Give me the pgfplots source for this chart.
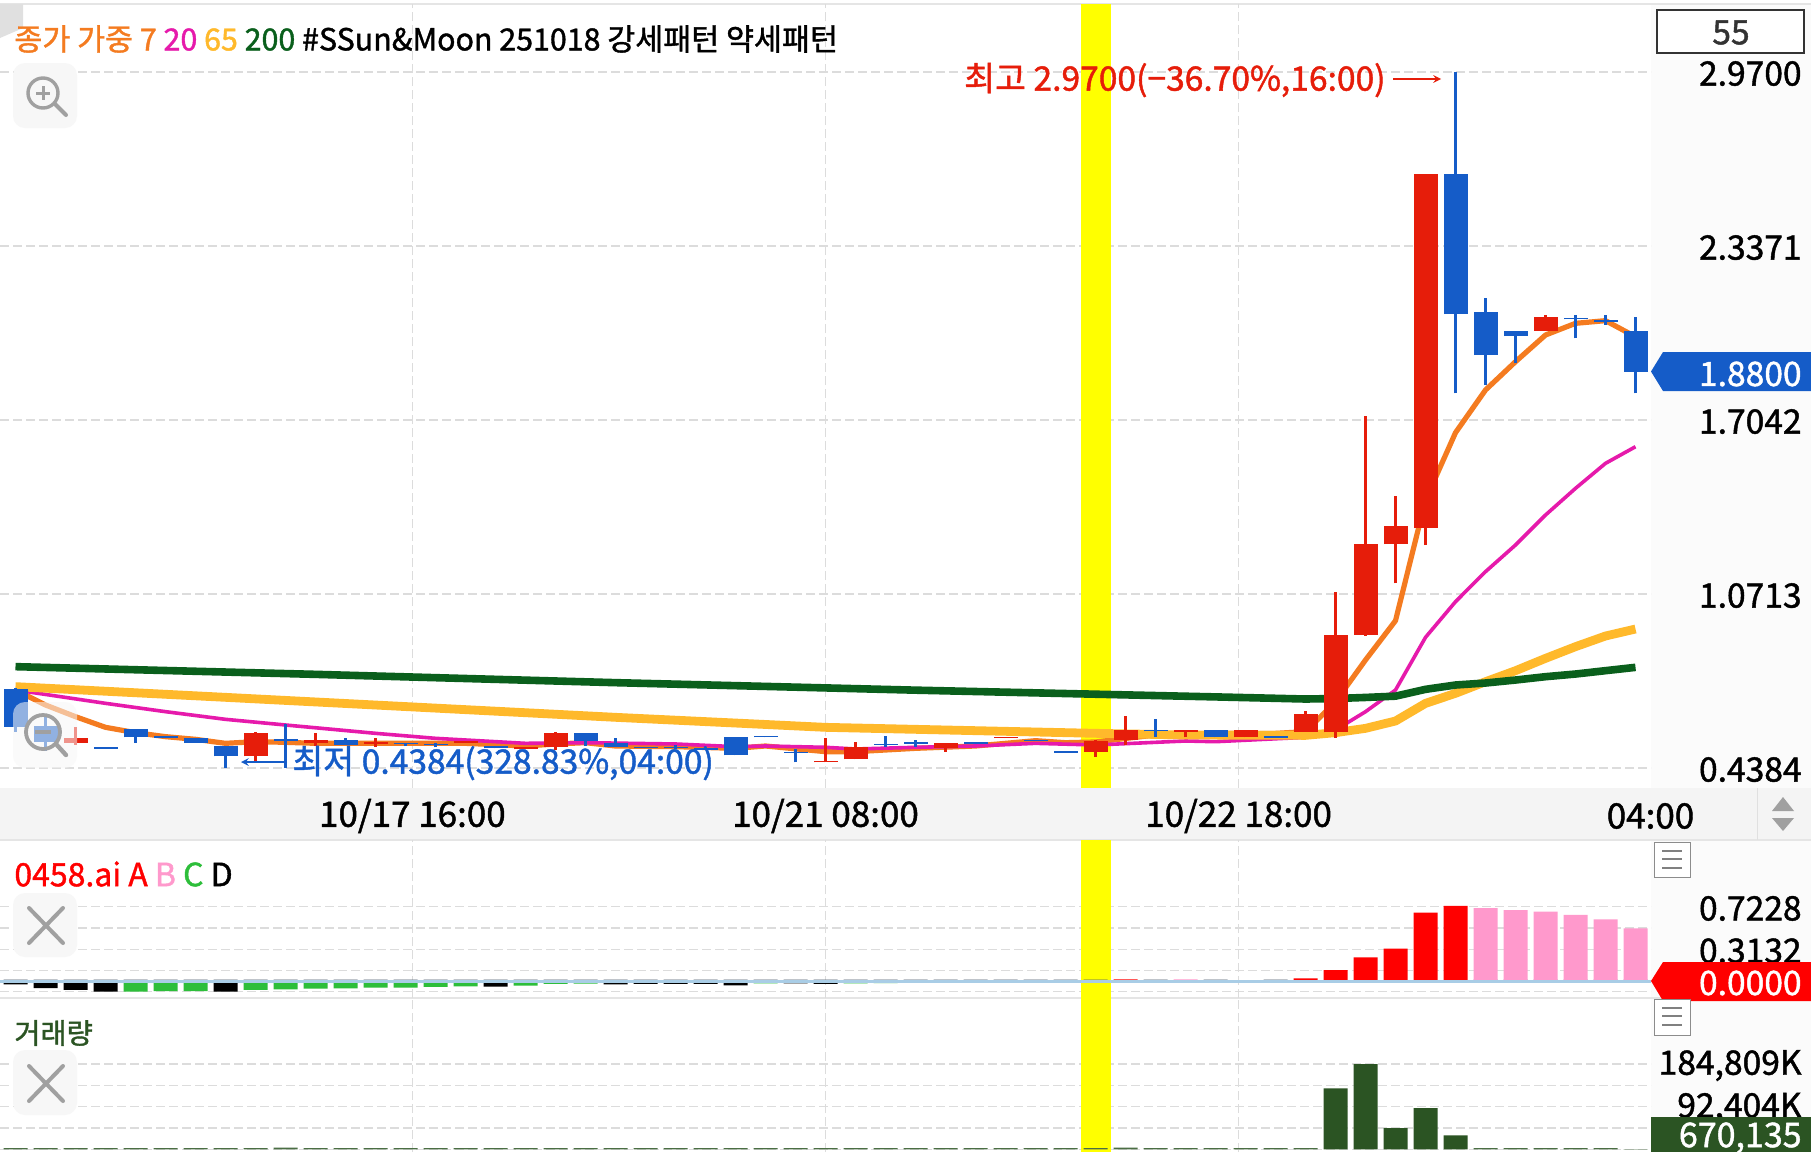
\documentclass[border=0pt]{standalone}
\usepackage{pgfplots}
\usepackage{pgfplotstable}
\usepackage{fontspec}
\pgfplotsset{compat=1.18}
\setmainfont{Noto Sans CJK KR}[FakeBold=1.3]
\definecolor{cred}{HTML}{E61D0A}
\definecolor{cblue}{HTML}{155CC8}
\definecolor{corange}{HTML}{F47B20}
\definecolor{cmag}{HTML}{E61AAB}
\definecolor{cyel}{HTML}{FFB92B}
\definecolor{cgreen}{HTML}{0A5F1C}
\definecolor{cgrid}{HTML}{DCDCDC}
\definecolor{cpink}{HTML}{FF99CC}
\definecolor{cbgreen}{HTML}{2DBE3A}
\definecolor{cvol}{HTML}{2B5423}
\definecolor{cicon}{HTML}{A0A0A0}
\definecolor{cbox}{HTML}{F7F7F7}
\definecolor{pureyellow}{HTML}{FFFF00}
\definecolor{purered}{HTML}{FF0000}
\definecolor{czero}{HTML}{A9CDE6}
\definecolor{cdash}{HTML}{4A5A6A}
\pgfplotstableread{
i bot top low high
2 .5305 .5463 .5221 .5863
8 .4808 .5669 .4578 .5694
10 .5281 .5402 .5184 .5645
12 .5269 .5342 .5160 .5463
15 .5310 .5366 .5310 .5366
17 .5063 .5160 .5063 .5160
18 .5160 .5657 .5039 .5694
27 .4590 .4651 .4590 .5487
28 .4699 .5148 .4699 .5330
31 .5111 .5281 .4978 .5281
33 .5470 .5524 .5470 .5524
36 .4966 .5366 .4796 .5415
37 .5402 .5766 .5208 .6288
39 .5710 .5766 .5499 .5766
41 .5498 .5765 .5498 .5765
43 .5705 .6335 .5705 .6468
44 .5680 .9221 .5486 1.0773
45 .9233 1.2531 .9197 1.7187
46 1.2531 1.3186 1.1100 1.4277
47 1.3101 2.5990 1.2495 2.5990
51 2.0291 2.0776 2.0291 2.0873
}\upcandles
\pgfplotstableread{
i bot top low high
0 .5887 .7245 .5706 .7282
1 .5342 .5912 .5002 .6227
3 .5080 .5136 .5080 .5136
4 .5499 .5790 .5305 .5790
5 .5487 .5548 .5487 .5548
6 .5305 .5487 .5305 .5487
7 .4808 .5184 .4384 .5184
9 .5375 .5427 .4384 .5972
11 .5233 .5402 .5233 .5487
13 .5250 .5305 .5184 .5305
14 .5205 .5257 .5136 .5281
16 .5099 .5172 .5099 .5172
19 .5366 .5657 .5184 .5657
20 .5160 .5281 .5160 .5463
21 .5099 .5160 .5099 .5160
22 .5099 .5160 .5075 .5208
23 .5050 .5099 .5050 .5099
24 .4845 .5499 .4845 .5499
25 .5495 .5548 .5495 .5548
26 .4925 .4978 .4590 .5087
29 .5221 .5269 .5160 .5548
30 .5270 .5318 .5160 .5402
32 .5270 .5318 .5270 .5318
34 .5350 .5402 .5350 .5402
35 .4940 .4990 .4940 .4990
38 .5718 .5766 .5524 .6154
40 .5498 .5765 .5498 .5765
42 .5486 .5535 .5486 .5535
48 2.0897 2.5990 1.8011 2.97
49 1.9406 2.0982 1.8315 2.1467
50 2.0097 2.0279 1.9103 2.0279
52 2.0703 2.0764 2.0012 2.0861
53 2.0606 2.0679 2.0509 2.0861
54 1.88 2.0279 1.8011 2.0776
}\downcandles
\pgfplotsset{
 pane/.style={scale only axis,width=825.5pt,xmin=-0.5167,xmax=54.5167,
  xtick={13.23,27,40.77},xmajorgrids,ymajorgrids,
  grid style={cgrid,line width=.6pt,dash pattern=on 4.5pt off 2pt},
  axis line style={draw=none},major tick length=0pt,
  yticklabel pos=right,
  yticklabel style={anchor=east,xshift=75.5pt,yshift=-.8pt,inner sep=0pt,font=\fontsize{16.8}{17}\selectfont},
  xticklabel style={anchor=center,yshift=-14pt,inner sep=0pt,font=\fontsize{17.5}{18}\selectfont},
  clip=true},
 cwick/.style={draw=none,error bars/.cd,y dir=plus,y explicit,error mark=none,
   error bar style={line width=1.5pt,draw=#1}},
 cbody/.style={draw=none,error bars/.cd,y dir=plus,y explicit,error mark=none,
   error bar style={line width=12pt,draw=#1}},
 bbar/.style={ybar,bar shift=0pt,bar width=12pt,fill=#1,draw=none}
}
\begin{document}
\begin{tikzpicture}
\path[use as bounding box,clip] (0,0) rectangle (905.5pt,-576pt);
\begin{scope}[x=.5pt,y=-.5pt]
\fill[white] (0,0) rectangle (1811,1152);
\fill[black!1.5] (1651,4) rectangle (1811,1152);
\fill[black!4.5] (0,788) rectangle (1811,840);
\draw[black!10,line width=.8pt] (0,4) -- (1811,4);
\draw[black!10,line width=.8pt] (0,840) -- (1811,840);
\draw[black!10,line width=.8pt] (0,998) -- (1811,998);
\draw[black!12,line width=.6pt] (1757.5,788) -- (1757.5,840);
\fill[cicon] (1783,797) -- (1794,811) -- (1772,811) -- cycle;
\fill[cicon] (1783,831) -- (1794,818) -- (1772,818) -- cycle;
\fill[black!12] (0,4) -- (23,4) -- (23,28) -- (0,38) -- cycle;
\end{scope}
% ---------- price pane
\begin{axis}[pane,at={(0pt,-394pt)},anchor=south west,height=392pt,
  ymin=0.3656,ymax=3.2173,
  ytick={0.4384,1.0713,1.7042,2.3371,2.97},
  yticklabels={0.4384,1.0713,1.7042,2.3371,2.9700},
  xticklabels={10/17 16:00,10/21 08:00,10/22 18:00},
  extra x ticks={54.5},extra x tick labels={04:00},extra x tick style={grid=none}]
\addplot[fill=pureyellow,draw=none] coordinates {(35.5,0.3656)(36.5,0.3656)(36.5,3.2173)(35.5,3.2173)} --cycle;
\addplot[corange,line width=2.6pt,line join=round] coordinates {
(0,.7221)(1,.6676)(2,.6251)(3,.5863)(4,.5669)(5,.5524)(6,.5427)(7,.5281)(8,.5342)(9,.5318)(10,.5281)(15,.5281)(17,.5184)(18,.5257)(19,.5305)(20,.5184)(22,.5160)(24,.5099)(25,.5184)(27,.4978)(28,.4978)(30,.5099)(32,.5184)(34,.5378)(35,.5305)(36,.5330)(38,.5584)(39,.5584)(40,.5644)(42,.5644)(43,.5705)(44,.6796)(45,.8312)(46,.9742)(47,1.4131)(48,1.6581)(49,1.8133)(50,1.9163)(51,2.0133)(52,2.0558)(53,2.0655)(54,2.007)};
\addplot[cmag,line width=1.8pt,line join=round] coordinates {
(0,.7221)(3,.6736)(5,.6433)(7,.6154)(9,.5948)(12,.5645)(14,.5463)(17,.5281)(19,.5305)(22,.5257)(24,.5160)(25,.5184)(27,.5136)(28,.5075)(30,.5136)(32,.5184)(34,.5281)(36,.5221)(39,.5366)(40,.5341)(43,.5499)(44,.5765)(45,.6432)(46,.7220)(47,.9136)(48,1.0433)(49,1.1525)(50,1.2495)(51,1.3586)(52,1.4556)(53,1.5465)(54,1.6071)};
\addplot[cyel,line width=4.4pt,line join=round] coordinates {
(0,.7343)(7,.6954)(20,.6227)(27,.5863)(36,.5645)(39,.5584)(43,.5571)(44,.5669)(45,.5826)(46,.6093)(47,.6735)(48,.7099)(49,.7523)(50,.7923)(51,.8372)(52,.8797)(53,.9185)(54,.9439)};
\addplot[cgreen,line width=3.8pt,line join=round] coordinates {
(0,.807)(10,.7790)(20,.7488)(30,.7215)(40,.697)(43,.6893)(44,.691)(45,.695)(46,.6997)(47,.7245)(48,.7402)(49,.7475)(50,.7584)(51,.7705)(52,.7802)(53,.7924)(54,.8045)};
\addplot[cwick=cred] table[x=i,y=low,y error plus expr=\thisrow{high}-\thisrow{low}] {\upcandles};
\addplot[cbody=cred] table[x=i,y=bot,y error plus expr=\thisrow{top}-\thisrow{bot}] {\upcandles};
\addplot[cwick=cblue] table[x=i,y=low,y error plus expr=\thisrow{high}-\thisrow{low}] {\downcandles};
\addplot[cbody=cblue] table[x=i,y=bot,y error plus expr=\thisrow{top}-\thisrow{bot}] {\downcandles};
\end{axis}
% ---------- indicator pane
\begin{axis}[pane,at={(0pt,-499pt)},anchor=south west,height=79pt,
  ymin=-0.1597,ymax=1.3697,
  ytick={-0.0964,0.1084,0.3132,0.518,0.7228},
  yticklabels={,,0.3132,,0.7228},xticklabels={,,}]
\addplot[fill=pureyellow,draw=none] coordinates {(35.5,-0.1597)(36.5,-0.1597)(36.5,1.3697)(35.5,1.3697)} --cycle;
\addplot[bbar=cdash] coordinates {(0,.018)(1,.018)(2,.018)(3,.018)(4,.018)(5,.018)(6,.018)(7,.018)(8,.018)(9,.018)(10,.018)(11,.018)(12,.018)(13,.018)(14,.018)(15,.018)(16,.018)(17,.018)(18,.018)(19,.018)(20,.018)(21,.018)(22,.018)(23,.018)(24,.018)(25,.018)(26,.018)(27,.018)(28,.018)(29,.018)(30,.018)(31,.018)(32,.018)(33,.018)(34,.018)(35,.018)(36,.018)(38,.018)(40,.018)(42,.018)(49,.018)(50,.018)(51,.018)(52,.018)(53,.018)(54,.018)};
\addplot[bbar=purered] coordinates {(37,.02)(41,.012)(43,.03)(44,.111)(45,.234)(46,.318)(47,.666)(48,.731)};
\addplot[bbar=cpink] coordinates {(39,.02)(49,.711)(50,.692)(51,.676)(52,.644)(53,.602)(54,.515)};
\addplot[bbar=cbgreen] coordinates {(4,-.098)(5,-.092)(6,-.092)(8,-.082)(9,-.076)(10,-.069)(11,-.066)(12,-.060)(13,-.060)(14,-.053)(15,-.047)(17,-.040)(18,-.024)(19,-.021)(25,-.019)(28,-.019)(29,-.015)(30,-.008)};
\addplot[bbar=black] coordinates {(0,-.027)(1,-.063)(2,-.082)(3,-.098)(7,-.098)(16,-.050)(20,-.027)(21,-.024)(22,-.024)(23,-.024)(24,-.037)(26,-.019)(27,-.024)};
\addplot[czero,line width=1.1pt] coordinates {(-0.5167,0)(54.5167,0)};
\end{axis}
% ---------- volume pane
\begin{axis}[pane,at={(0pt,-576pt)},anchor=south west,height=77pt,
  ymin=-5626,ymax=327630,
  ytick={0,46202,92404,138606,184809},
  yticklabels={,,{92,404K},,{184,809K}},xticklabels={,,}]
\addplot[fill=pureyellow,draw=none] coordinates {(35.5,-5626)(36.5,-5626)(36.5,327630)(35.5,327630)} --cycle;
\addplot[bbar=cvol!85!white] coordinates {(0,2800)(1,2800)(2,2800)(3,2800)(4,2800)(5,2800)(6,2800)(7,2800)(8,2800)(9,3800)(10,2800)(11,2800)(12,2800)(13,2800)(14,2800)(15,2800)(16,2800)(17,2800)(18,2800)(19,2800)(20,2800)(21,2800)(22,2800)(23,2800)(24,2800)(25,2800)(26,2800)(27,2800)(28,2800)(29,2800)(30,2800)(31,2800)(32,2800)(33,2800)(34,2800)(35,2800)(36,2800)(37,3800)(38,2800)(39,2800)(40,2800)(41,2800)(42,2800)(43,2800)(49,2800)(50,2800)(51,2800)(52,2800)(53,2800)(54,670)};
\addplot[bbar=cvol] coordinates {(44,132200)(45,184809)(46,46200)(47,89600)(48,30500)};
\end{axis}
% ---------- overlays
\begin{scope}[x=.5pt,y=-.5pt]
\fontsize{16.8}{17}\selectfont
% tags
\fill[cblue] (1651,371.5) -- (1663,352) -- (1811,352) -- (1811,391) -- (1663,391) -- cycle;
\node[white,anchor=east,inner sep=0] at (1802,374) {1.8800};
\fill[purered] (1651,981) -- (1663,962) -- (1811,962) -- (1811,1001) -- (1663,1001) -- cycle;
\node[white,anchor=east,inner sep=0] at (1802,983) {0.0000};
\fill[cvol] (1651,1116.5) rectangle (1811,1152);
\node[white,anchor=east,inner sep=0] at (1802,1138) {\fontsize{17}{17}\selectfont 670,135};
% 55 box
\draw[black!80,line width=.6pt,fill=white] (1657,10) rectangle (1804,53);
\node[black!80,inner sep=0] at (1731,32.5) {55};
% title
\node[anchor=west,inner sep=0] at (14,39) {\fontsize{15.2}{16}\selectfont\textcolor{corange}{종가 가중 7} \textcolor{cmag}{20} \textcolor{cyel}{65} \textcolor{cgreen}{200} \#SSun\&Moon 251018 강세패턴 약세패턴};
% annotations
\node[anchor=east,inner sep=0,cred] at (1386,80) {최고 2.9700(−36.70\%,16:00)};
\draw[cred,line width=.7pt,-stealth] (1393,79) -- (1441,79);
\node[anchor=west,inner sep=0,cblue] at (292,763) {최저 0.4384(328.83\%,04:00)};
\draw[cblue,line width=.7pt,-stealth] (287,762) -- (241,762);
% zoom icons
\fill[cbox,rounded corners=6pt] (13,63) rectangle (77,128);
\draw[cicon,line width=1.7pt] (43,93) circle (15);
\draw[cicon,line width=1.5pt] (36,93) -- (50,93) (43,86) -- (43,100);
\draw[cicon,line width=2pt,line cap=round] (55,104) -- (66,115);
\fill[cbox,opacity=.55,rounded corners=6pt] (13,702) rectangle (77,768);
\draw[cicon,line width=1.9pt] (43,732) circle (17);
\draw[cicon,line width=2pt] (35,732) -- (51,732);
\draw[cicon,line width=2.2pt,line cap=round] (56,744) -- (66,755);
% indicator captions
\node[anchor=west,inner sep=0] at (14,874) {\fontsize{16}{16}\selectfont\textcolor{purered}{0458.ai A} \textcolor{cpink}{B} \textcolor{cbgreen}{C} D};
\node[anchor=west,inner sep=0,cvol] at (14,1033) {\fontsize{14.2}{15}\selectfont 거래량};
% X boxes
\fill[cbox,rounded corners=6pt] (13,893) rectangle (77,957);
\draw[cicon,line width=2pt,line cap=round] (29,908) -- (63,943) (63,908) -- (29,943);
\fill[cbox,rounded corners=6pt] (13,1050) rectangle (77,1115);
\draw[cicon,line width=2pt,line cap=round] (29,1066) -- (63,1101) (63,1066) -- (29,1101);
% hamburgers
\draw[black!45,line width=.5pt,fill=white] (1654,842) rectangle (1690,877);
\draw[black!50,line width=1.2pt] (1662,851) -- (1682,851) (1662,859) -- (1682,859) (1662,868) -- (1682,868);
\draw[black!45,line width=.5pt,fill=white] (1654,999) rectangle (1690,1035);
\draw[black!50,line width=1.2pt] (1662,1008) -- (1682,1008) (1662,1016) -- (1682,1016) (1662,1025) -- (1682,1025);
\end{scope}
\end{tikzpicture}
\end{document}
